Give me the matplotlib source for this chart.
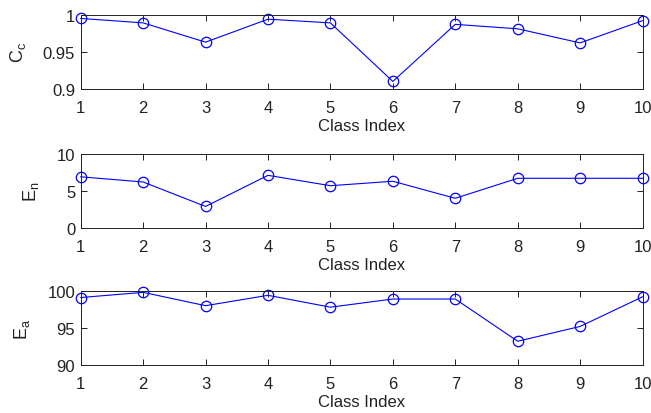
import numpy as np
import matplotlib
matplotlib.use("Agg")
import matplotlib.pyplot as plt

class_index = [1, 2, 3, 4, 5, 6, 7, 8, 9, 10]
cc_values = [0.995, 0.989, 0.963, 0.994, 0.989, 0.910, 0.987, 0.981, 0.962, 0.992]
en_values = [6.9, 6.2, 2.9, 7.1, 5.7, 6.3, 4.0, 6.7, 6.7, 6.7]
ea_values = [99.1, 99.8, 98.0, 99.4, 97.8, 98.9, 98.9, 93.2, 95.2, 99.2]

plt.rcParams["font.family"] = ["Liberation Sans", "DejaVu Sans"]

fig = plt.figure(figsize=(6.51, 4.14), dpi=100)

panels = [
    (cc_values, r"$\mathregular{C_c}$", (0.9, 1.0), [0.9, 0.95, 1.0], ["0.9", "0.95", "1"], 0.783),
    (en_values, r"$\mathregular{E_n}$", (0, 10), [0, 5, 10], ["0", "5", "10"], 0.447),
    (ea_values, r"$\mathregular{E_a}$", (90, 100), [90, 95, 100], ["90", "95", "100"], 0.116),
]

for values, ylab, ylim, yticks, ytl, bottom in panels:
    ax = fig.add_axes([0.124, bottom, 0.863, 0.179])
    ax.plot(class_index, values, color="#0000ff", linewidth=0.8,
            marker="o", markersize=7.5, markerfacecolor="none",
            markeredgecolor="#0000ff", markeredgewidth=0.9, clip_on=False)
    ax.set_xlim(1, 10)
    ax.set_ylim(*ylim)
    ax.set_xticks(class_index)
    ax.set_yticks(yticks)
    ax.set_yticklabels(ytl)
    ax.tick_params(direction="in", top=True, right=True, labelsize=12,
                   length=4, width=0.7, pad=4, colors="#222222")
    ax.tick_params(axis="x", pad=8)
    ax.set_xlabel("Class Index", fontsize=12, labelpad=2, color="#222222")
    ax.set_ylabel(ylab, fontsize=13, labelpad=11, color="#222222")
    for sp in ax.spines.values():
        sp.set_linewidth(0.7)
        sp.set_color("#222222")

fig.savefig("out.png", dpi=100)
